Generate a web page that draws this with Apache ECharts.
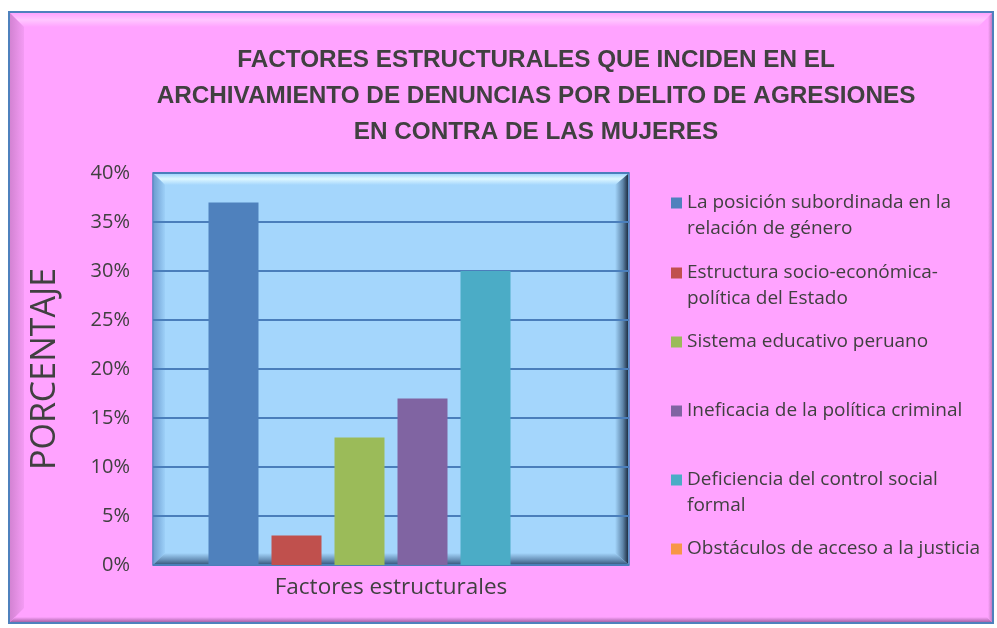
<!DOCTYPE html>
<html>
<head>
<meta charset="utf-8">
<script src="https://cdn.jsdelivr.net/npm/echarts@6/dist/echarts.min.js"></script>
<style>
  html, body { margin: 0; padding: 0; background: #ffffff; }
  #chart { width: 997px; height: 628px; }
</style>
</head>
<body>
<div id="chart"></div>
<script>
// datos del grafico
const categories = ['Factores estructurales'];
const factorNames = [
  'La posición subordinada en la relación de género',
  'Estructura socio-económica-política del Estado',
  'Sistema educativo peruano',
  'Ineficacia de la política criminal',
  'Deficiencia del control social formal',
  'Obstáculos de acceso a la justicia'
];
const legendLabels = [
  'La posición subordinada en la\nrelación de género',
  'Estructura socio-económica-\npolítica del Estado',
  'Sistema educativo peruano',
  'Ineficacia de la política criminal',
  'Deficiencia del control social\nformal',
  'Obstáculos de acceso a la justicia'
];
const values = [37, 3, 13, 17, 30, 0];
const yMin = 0;
const yMax = 40;
const yStep = 5;

const colors = ['#4f81bd', '#c0504d', '#9bbb59', '#8064a2', '#4bacc6', '#f79646'];
const textColor = '#404040';
const lineH = 26;
// centro vertical de cada icono de la leyenda
const legendCenters = [203, 273, 342, 411, 480, 549];

const gridBox = { left: 153, top: 173, width: 476, height: 392 };
const bev = 12;

var myChart = echarts.init(document.getElementById('chart'), null, { renderer: 'canvas' });

// el icono queda centrado en el texto: con una linea vacia arriba
// la primera linea real queda a la altura del icono
const legends = factorNames.map((name, i) => {
  const twoLines = legendLabels[i].indexOf('\n') >= 0;
  return {
    orient: 'vertical',
    left: 671,
    top: twoLines ? legendCenters[i] - lineH * 1.5 : legendCenters[i] - lineH / 2,
    padding: 0,
    itemWidth: 11,
    itemHeight: 11,
    icon: 'rect',
    selectedMode: false,
    data: [{ name: name }],
    formatter: () => (twoLines ? ' \n' : '') + legendLabels[i],
    textStyle: {
      color: textColor,
      fontFamily: 'Open Sans',
      fontSize: 19,
      lineHeight: lineH
    }
  };
});

const gl = gridBox.left, gt = gridBox.top;
const gr = gridBox.left + gridBox.width, gb = gridBox.top + gridBox.height;

var option = {
  backgroundColor: '#ffffff',
  animation: false,
  title: {
    text: 'FACTORES ESTRUCTURALES QUE INCIDEN EN EL\nARCHIVAMIENTO DE DENUNCIAS POR DELITO DE AGRESIONES\nEN CONTRA DE LAS MUJERES',
    left: 536,
    top: 42,
    padding: 0,
    textAlign: 'center',
    textStyle: {
      color: textColor,
      fontFamily: 'Liberation Sans',
      fontWeight: 'bold',
      fontSize: 24.3,
      lineHeight: 36
    }
  },
  legend: legends,
  grid: {
    left: gridBox.left,
    top: gridBox.top,
    width: gridBox.width,
    height: gridBox.height,
    show: false
  },
  xAxis: {
    type: 'category',
    data: categories,
    z: 3,
    axisLine: { show: false },
    axisTick: { show: false },
    axisLabel: {
      color: textColor,
      fontFamily: 'Open Sans',
      fontSize: 22.5,
      margin: 11
    }
  },
  yAxis: {
    type: 'value',
    min: yMin,
    max: yMax,
    interval: yStep,
    z: 3,
    name: 'PORCENTAJE',
    nameLocation: 'middle',
    nameRotate: 90,
    nameGap: 91,
    nameTextStyle: {
      color: textColor,
      fontFamily: 'Open Sans',
      fontSize: 34
    },
    axisLine: { show: false },
    axisTick: { show: false },
    axisLabel: {
      color: textColor,
      fontFamily: 'Open Sans',
      fontSize: 20,
      margin: 23,
      formatter: '{value}%'
    },
    splitLine: {
      lineStyle: { color: '#4a7ebb', width: 2 }
    }
  },
  series: factorNames.map((name, i) => ({
    name: name,
    type: 'bar',
    z: 4,
    barWidth: 50,
    barGap: '26%',
    itemStyle: { color: colors[i] },
    data: [values[i]]
  })),
  graphic: [
    // marco exterior rosado
    {
      type: 'rect', z: -30,
      shape: { x: 9, y: 12, width: 984, height: 611 },
      style: { fill: '#ffa3ff', stroke: '#4f81bd', lineWidth: 2 }
    },
    {
      type: 'polygon', z: -29,
      shape: { points: [[10, 13], [992, 13], [978, 27], [24, 27]] },
      style: {
        fill: new echarts.graphic.LinearGradient(0, 0, 0, 1, [
          { offset: 0, color: '#ffa3ff' }, { offset: 0.5, color: '#ffc6ff' }, { offset: 1, color: '#ffa3ff' }
        ])
      }
    },
    {
      type: 'polygon', z: -29,
      shape: { points: [[10, 13], [24, 27], [24, 608], [10, 622]] },
      style: {
        fill: new echarts.graphic.LinearGradient(0, 0, 1, 0, [
          { offset: 0, color: '#d383d3' }, { offset: 1, color: '#f39bf3' }
        ])
      }
    },
    {
      type: 'polygon', z: -29,
      shape: { points: [[10, 622], [992, 622], [987, 617], [15, 617]] },
      style: {
        fill: new echarts.graphic.LinearGradient(0, 0, 0, 1, [
          { offset: 0, color: '#ffa3ff' }, { offset: 1, color: '#a864a8' }
        ])
      }
    },
    {
      type: 'polygon', z: -29,
      shape: { points: [[992, 13], [992, 622], [988, 618], [988, 17]] },
      style: {
        fill: new echarts.graphic.LinearGradient(0, 0, 1, 0, [
          { offset: 0, color: '#ffa3ff' }, { offset: 1, color: '#c27ec2' }
        ])
      }
    },
    // fondo del area de trazado
    {
      type: 'rect', z: -20,
      shape: { x: gl, y: gt, width: gridBox.width, height: gridBox.height },
      style: { fill: '#a4d6fc', stroke: '#4a7ebb', lineWidth: 1.5 }
    },
    {
      type: 'polygon', z: -19,
      shape: { points: [[gl + 1, gt + 1], [gr - 1, gt + 1], [gr - bev, gt + bev], [gl + bev, gt + bev]] },
      style: {
        fill: new echarts.graphic.LinearGradient(0, 0, 0, 1, [
          { offset: 0, color: '#a4d6fc' }, { offset: 0.45, color: '#dcf6ff' }, { offset: 1, color: '#a4d6fc' }
        ])
      }
    },
    {
      type: 'polygon', z: -19,
      shape: { points: [[gl + 1, gt + 1], [gl + bev, gt + bev], [gl + bev, gb - bev], [gl + 1, gb - 1]] },
      style: {
        fill: new echarts.graphic.LinearGradient(0, 0, 1, 0, [
          { offset: 0, color: '#6f9fd2' }, { offset: 1, color: '#9dd0f8' }
        ])
      }
    },
    {
      type: 'polygon', z: -19,
      shape: { points: [[gr - 1, gt + 1], [gr - 1, gb - 1], [gr - bev - 2, gb - bev], [gr - bev - 2, gt + bev]] },
      style: {
        fill: new echarts.graphic.LinearGradient(0, 0, 1, 0, [
          { offset: 0, color: '#a4d6fc' }, { offset: 0.6, color: '#5f86aa' }, { offset: 1, color: '#1f2f44' }
        ])
      }
    },
    {
      type: 'polygon', z: -19,
      shape: { points: [[gl + 1, gb - 1], [gr - 1, gb - 1], [gr - bev - 2, gb - bev], [gl + bev, gb - bev]] },
      style: {
        fill: new echarts.graphic.LinearGradient(0, 0, 0, 1, [
          { offset: 0, color: '#a4d6fc' }, { offset: 0.6, color: '#6a93ba' }, { offset: 1, color: '#3d5e85' }
        ])
      }
    }
  ]
};

option && myChart.setOption(option);
</script>
</body>
</html>
